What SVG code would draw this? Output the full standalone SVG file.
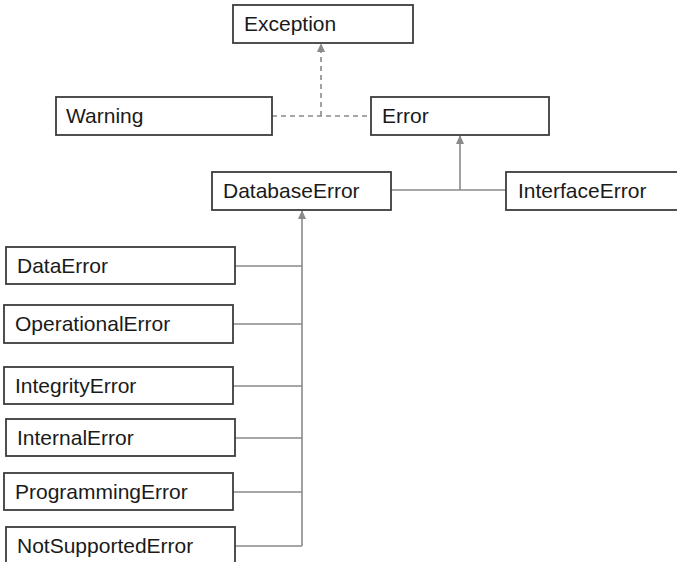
<svg xmlns="http://www.w3.org/2000/svg" width="677" height="562" viewBox="0 0 677 562">
<style>
.box{fill:#fff;stroke:#3c3c3c;stroke-width:1.8}
.lbl{font-family:"Liberation Sans",Arial,sans-serif;font-size:21px;fill:#1a1a1a}
.c{fill:none;stroke:#8a8a8a;stroke-width:1.6}
.d{stroke-dasharray:5 4}
</style>
<defs>
<marker id="ah" markerWidth="10" markerHeight="10" refX="8" refY="5" orient="auto" markerUnits="userSpaceOnUse">
<path d="M0,1 L9,5 L0,9 Z" fill="#8a8a8a"/>
</marker>
</defs>
<rect width="677" height="562" fill="#fff"/>
<g id="connectors">
<path class="c d" d="M272,116 H371"/>
<path class="c d" d="M321,116 V44" marker-end="url(#ah)"/>
<path class="c" d="M391,190 H506"/>
<path class="c" d="M460,190 V136" marker-end="url(#ah)"/>
<path class="c" d="M302,546 V211" marker-end="url(#ah)"/>
<path class="c" d="M235,266 H302 M233,324 H302 M233,386 H302 M235,438 H302 M233,492 H302 M235,546 H302"/>
</g>
<g id="Exception"><rect class="box" x="233" y="5" width="180" height="38"/><text class="lbl" x="244" y="31">Exception</text></g>
<g id="Warning"><rect class="box" x="56" y="97" width="216" height="38"/><text class="lbl" x="66" y="123">Warning</text></g>
<g id="Error"><rect class="box" x="371" y="97" width="178" height="38"/><text class="lbl" x="382" y="123">Error</text></g>
<g id="DatabaseError"><rect class="box" x="212" y="172" width="179" height="38"/><text class="lbl" x="223" y="198">DatabaseError</text></g>
<g id="InterfaceError"><rect class="box" x="506" y="172" width="190" height="38"/><text class="lbl" x="518" y="198">InterfaceError</text></g>
<g id="DataError"><rect class="box" x="6" y="247" width="229" height="37"/><text class="lbl" x="17" y="273">DataError</text></g>
<g id="OperationalError"><rect class="box" x="4" y="305" width="229" height="38"/><text class="lbl" x="15" y="331">OperationalError</text></g>
<g id="IntegrityError"><rect class="box" x="4" y="367" width="229" height="37"/><text class="lbl" x="15" y="393">IntegrityError</text></g>
<g id="InternalError"><rect class="box" x="6" y="419" width="229" height="37"/><text class="lbl" x="17" y="445">InternalError</text></g>
<g id="ProgrammingError"><rect class="box" x="4" y="473" width="229" height="37"/><text class="lbl" x="15" y="499">ProgrammingError</text></g>
<g id="NotSupportedError"><rect class="box" x="6" y="527" width="229" height="40"/><text class="lbl" x="17" y="553">NotSupportedError</text></g>
</svg>
